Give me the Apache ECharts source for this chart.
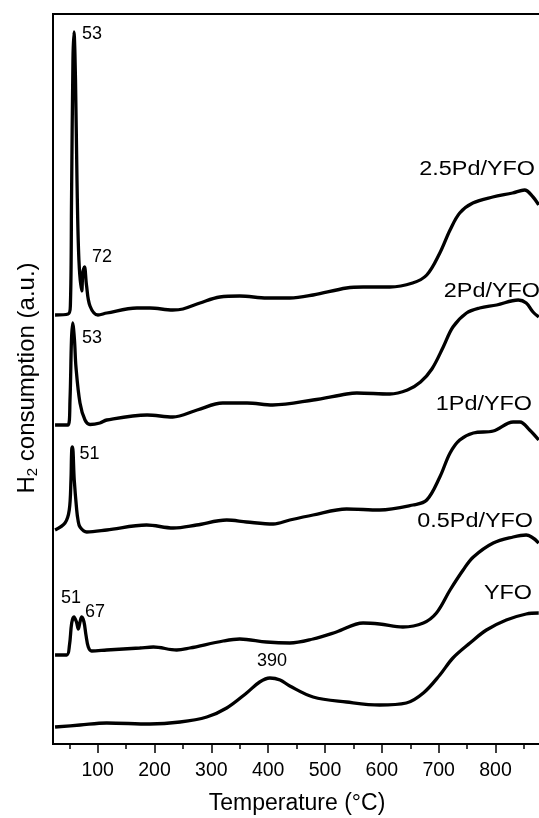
<!DOCTYPE html>
<html>
<head>
<meta charset="utf-8">
<script src="https://cdn.jsdelivr.net/npm/echarts@6/dist/echarts.min.js"></script>
<style>
  html, body { margin: 0; padding: 0; background: #fff; }
  #chart { width: 539px; height: 818px; }
</style>
</head>
<body>
<div id="chart"></div>
<script>
// TPR profiles, temperature (°C) vs H2 consumption (a.u., curves offset)
const pd25T = [25, 48, 52, 54, 56.5, 58.3, 61, 63.6, 67, 72, 74, 76.8, 80.3, 86.5, 100.5, 116, 169, 192, 232, 250, 280, 315, 350, 398, 438, 479, 538, 567, 614, 654, 679, 702, 720, 737, 760, 795, 830, 851, 866, 876]
const pd25V = [42.9, 43.0, 43.9, 54.4, 68.4, 71.2, 66.4, 56.4, 48.4, 45.3, 47.2, 47.7, 45.9, 43.8, 42.9, 43.1, 43.6, 43.6, 43.4, 43.5, 44.1, 44.7, 44.8, 44.6, 44.6, 44.9, 45.6, 45.7, 45.7, 46.1, 46.9, 49.1, 51.4, 53.1, 54.1, 54.7, 55.1, 55.4, 54.7, 53.9]

const pd2T = [25, 48, 51.3, 53.9, 56, 59.2, 61.8, 68.9, 77.7, 86.5, 104, 116, 187, 232, 275, 320, 363, 408, 479, 538, 556, 614, 645, 668, 688, 708, 725, 749, 772, 802, 840, 854, 866, 876]
const pd2V = [31.9, 31.9, 34.4, 40.4, 42.1, 40.4, 37.7, 34.1, 32.4, 31.95, 32.1, 32.4, 32.9, 32.7, 33.4, 34.1, 34.1, 33.9, 34.4, 35.0, 35.1, 35.0, 35.4, 36.2, 37.5, 39.7, 41.7, 43.1, 43.6, 43.9, 44.4, 44.1, 43.2, 42.7]

const pd1T = [25, 42.5, 50, 53, 54.3, 55.7, 58.8, 63.1, 65.4, 68.9, 80.7, 116, 186, 233, 274, 327, 362, 409, 438, 479, 538, 596, 655, 679, 702, 720, 737, 761, 796, 831, 843, 860, 876]
const pd1V = [21.4, 22.1, 23.4, 26.4, 29.4, 29.7, 26.4, 23.4, 22.4, 21.7, 21.2, 21.4, 21.9, 21.6, 21.9, 22.4, 22.2, 22.0, 22.4, 22.9, 23.5, 23.4, 23.9, 24.4, 26.7, 29.1, 30.4, 31.1, 31.3, 32.2, 32.2, 31.4, 30.4]

const pd05T = [25, 45.5, 50.4, 54.3, 58.3, 62.7, 65.9, 68.9, 71.9, 75.9, 79.4, 83.5, 89.4, 116, 174, 198, 239, 262, 321, 350, 397, 438, 479, 520, 567, 596, 637, 673, 696, 720, 743, 761, 796, 831, 854, 876]
const pd05V = [8.9, 8.9, 9.9, 12.1, 12.7, 12.2, 11.5, 12.2, 12.7, 12.2, 10.9, 9.7, 9.3, 9.4, 9.6, 9.7, 9.4, 9.6, 10.3, 10.5, 10.2, 10.1, 10.5, 11.2, 12.1, 12.0, 11.7, 12.1, 13.1, 15.4, 17.4, 18.7, 20.1, 20.7, 20.9, 20.1]

const yfoT = [25, 69, 116, 192, 245, 292, 327, 362, 385, 403, 421, 438, 479, 538, 596, 643, 673, 702, 725, 755, 784, 819, 854, 876]
const yfoV = [1.7, 1.9, 2.1, 2.0, 2.2, 2.7, 3.6, 5.1, 6.2, 6.6, 6.4, 5.8, 4.7, 4.2, 3.9, 4.1, 5.1, 6.9, 8.6, 10.1, 11.4, 12.4, 13.0, 13.1]

const majorTicks = [100, 200, 300, 400, 500, 600, 700, 800]
const minorTicks = [50, 150, 250, 350, 450, 550, 650, 750, 850]

const font = 'Liberation Sans, Arial, sans-serif'
const zip = (xs, ys) => xs.map((x, i) => [x, ys[i]])

function curve(name, xs, ys) {
  return {
    name, type: 'line', data: zip(xs, ys),
    smooth: 0.35, symbol: 'none',
    lineStyle: { color: '#000', width: 3.3 },
    xAxisIndex: 0,
  }
}

function label(text, x, y, size, align, sx) {
  return {
    type: 'text', x, y, scaleX: sx || 1,
    style: { text, fill: '#000', font: size + 'px ' + font, textAlign: align, textVerticalAlign: 'middle' },
  }
}

const chart = echarts.init(document.getElementById('chart'))
chart.setOption({
  animation: false,
  backgroundColor: '#fff',
  grid: {
    left: 53, right: -2, top: 14, bottom: 74,
    show: true, borderColor: '#000', borderWidth: 2,
    outerBoundsMode: 'none',
  },
  xAxis: [
    {
      type: 'value', min: 21.4, max: 880,
      name: 'Temperature (°C)', nameLocation: 'middle', nameGap: 48,
      nameTextStyle: { color: '#000', fontSize: 23, fontFamily: font },
      axisLine: { show: false },
      axisTick: { show: true, inside: false, length: 9, customValues: majorTicks, lineStyle: { color: '#000', width: 1.5 } },
      axisLabel: { customValues: majorTicks, color: '#000', fontSize: 19.5, fontFamily: font, margin: 17 },
      splitLine: { show: false },
    },
    {
      type: 'value', min: 21.4, max: 880, position: 'bottom',
      axisLine: { show: false },
      axisTick: { show: true, length: 5, customValues: minorTicks, lineStyle: { color: '#000', width: 1.5 } },
      axisLabel: { show: false },
      splitLine: { show: false },
    },
  ],
  yAxis: {
    type: 'value', min: 0, max: 73,
    axisLine: { show: false }, axisTick: { show: false },
    axisLabel: { show: false }, splitLine: { show: false },
  },
  series: [
    curve('2.5Pd/YFO', pd25T, pd25V),
    curve('2Pd/YFO', pd2T, pd2V),
    curve('1Pd/YFO', pd1T, pd1V),
    curve('0.5Pd/YFO', pd05T, pd05V),
    curve('YFO', yfoT, yfoV),
  ],
  graphic: [
    label('2.5Pd/YFO', 535, 170, 19.5, 'right', 1.2),
    label('2Pd/YFO', 540, 291.5, 19.5, 'right', 1.2),
    label('1Pd/YFO', 532, 405, 19.5, 'right', 1.2),
    label('0.5Pd/YFO', 533, 522, 19.5, 'right', 1.2),
    label('YFO', 532, 594, 19.5, 'right', 1.2),
    label('53', 82, 34, 18, 'left'),
    label('72', 92, 257, 18, 'left'),
    label('53', 82, 338, 18, 'left'),
    label('51', 79.5, 454, 18, 'left'),
    label('51', 61, 598, 18, 'left'),
    label('67', 85, 612, 18, 'left'),
    label('390', 257, 661.5, 18, 'left'),
    {
      type: 'text', x: 27, y: 378, rotation: Math.PI / 2,
      style: {
        text: '{h|H}{s|2}{h| consumption (a.u.)}',
        textAlign: 'center', textVerticalAlign: 'middle',
        rich: {
          h: { fill: '#000', font: '24px ' + font },
          s: { fill: '#000', font: '15px ' + font, padding: [12, 0, 0, 0] },
        },
      },
    },
  ],
})
</script>
</body>
</html>
